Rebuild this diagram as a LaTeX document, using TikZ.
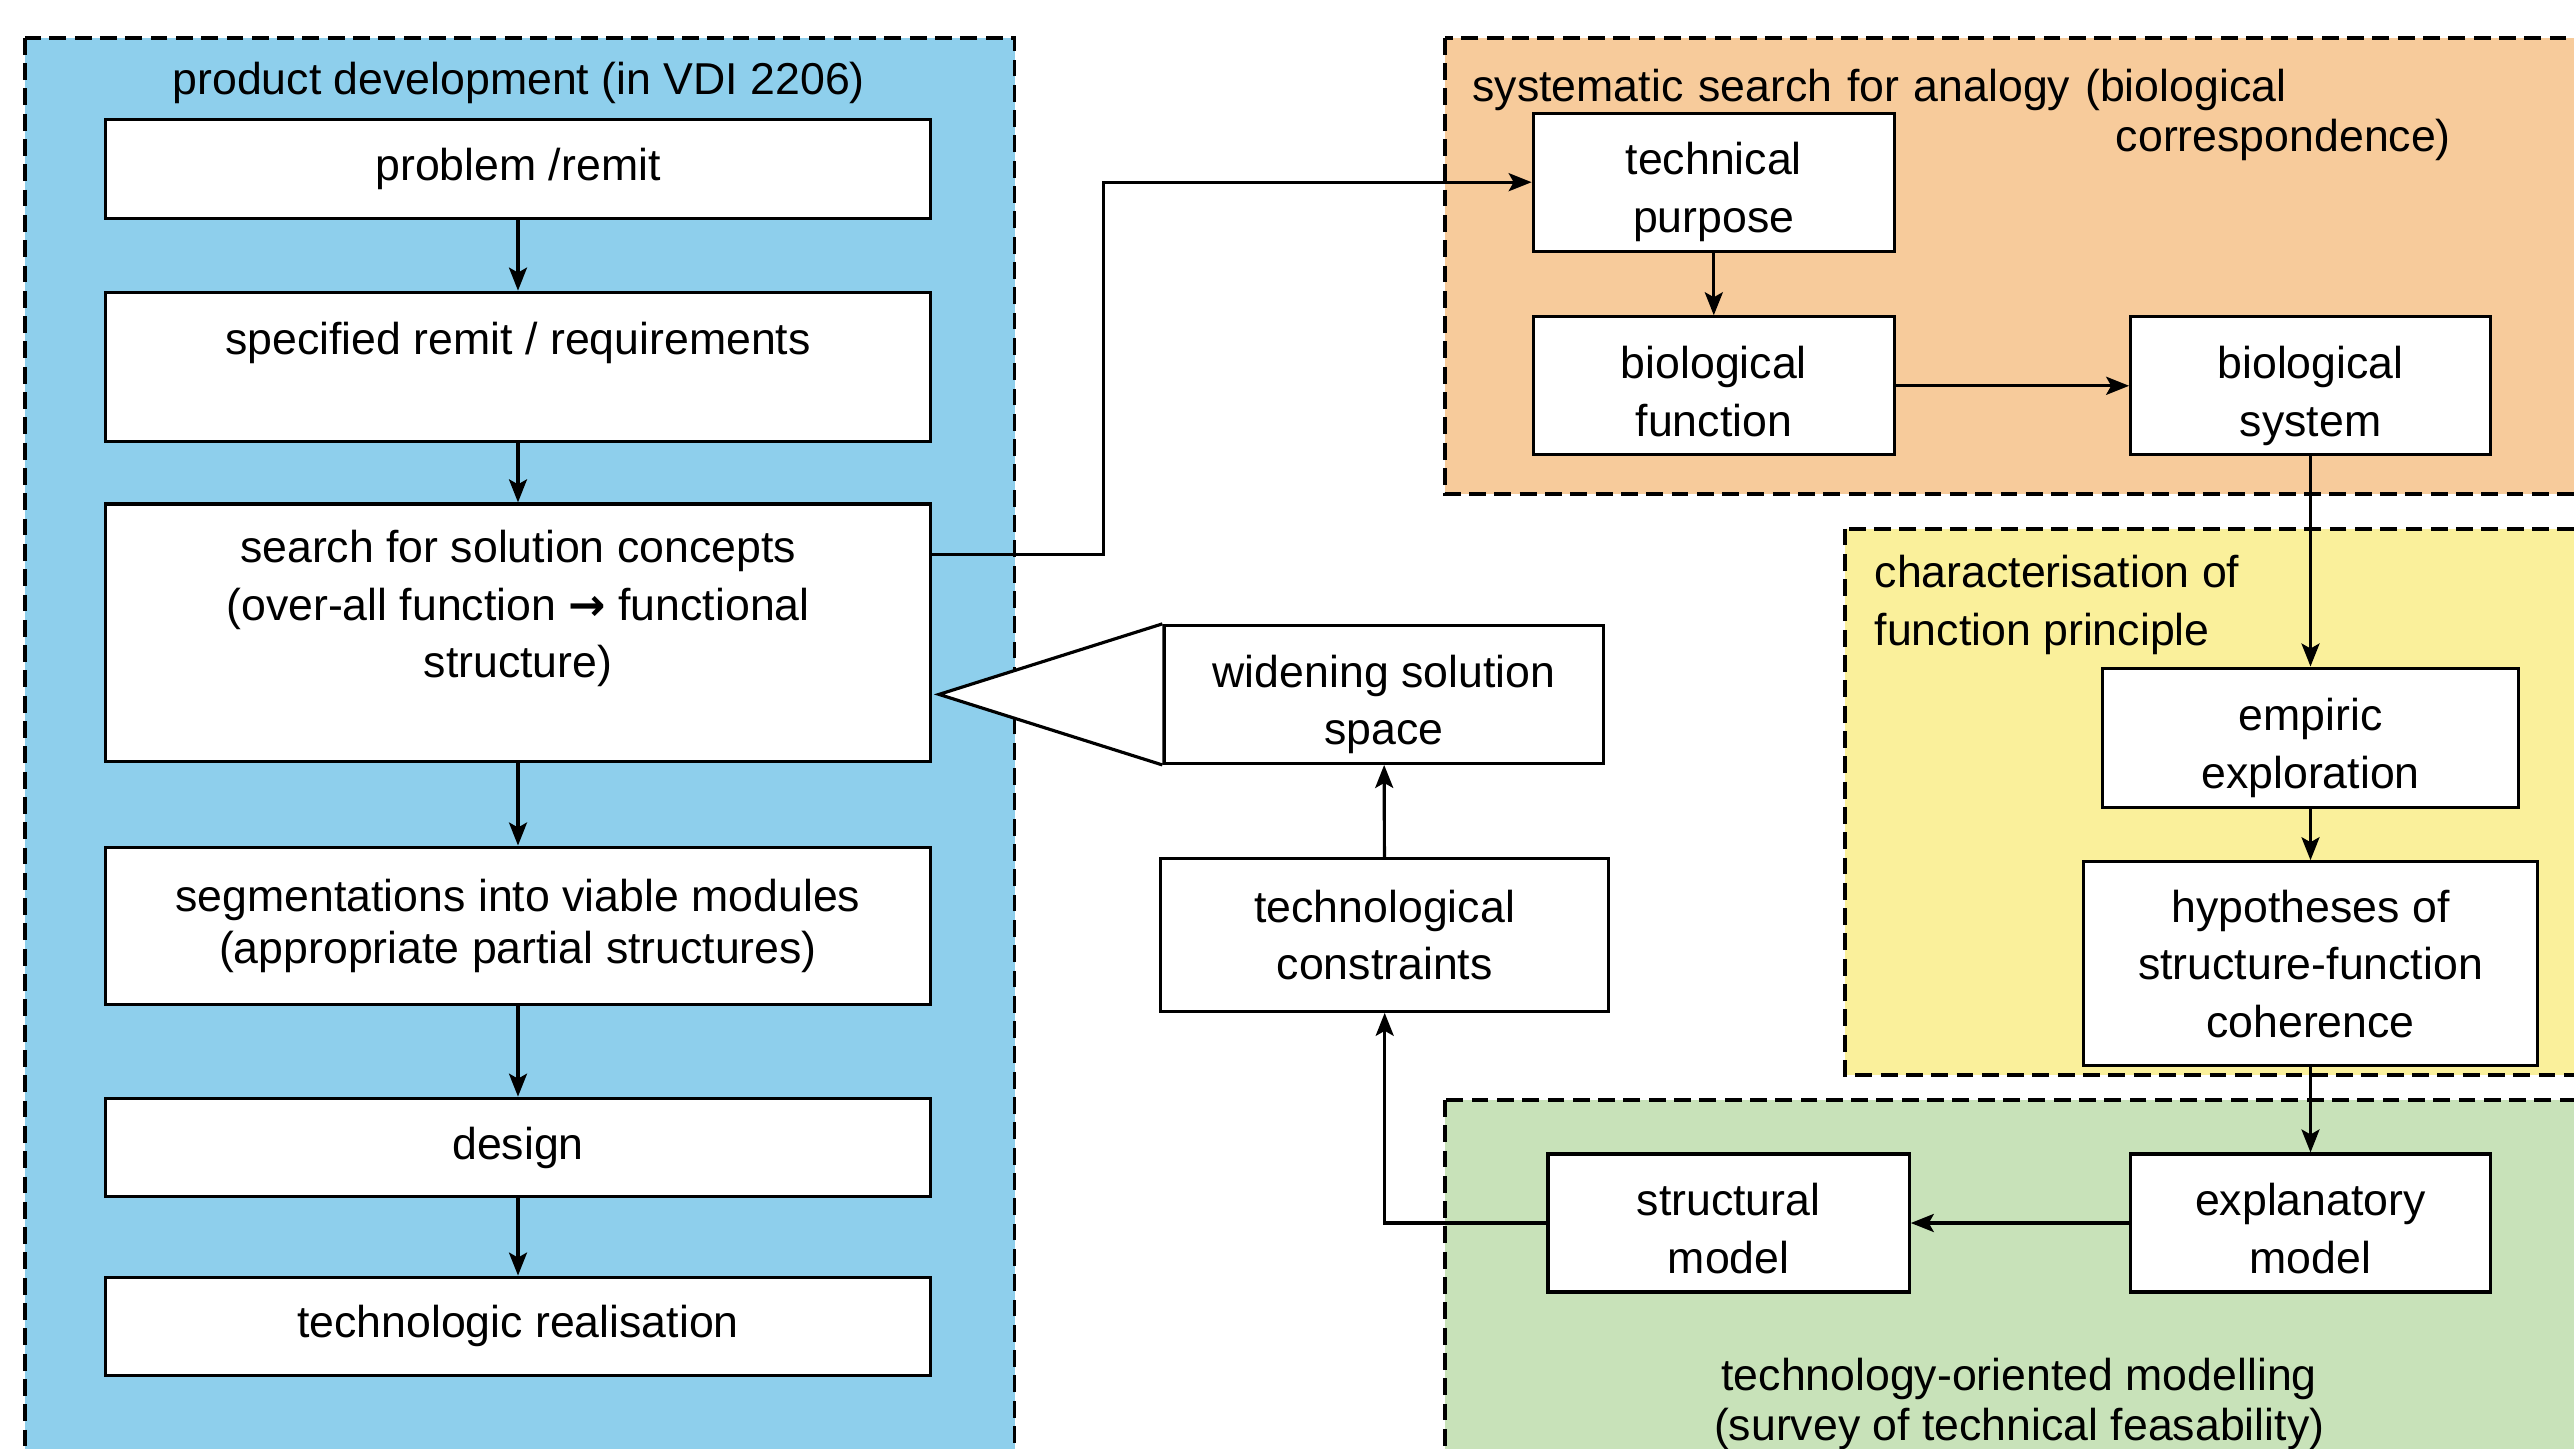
\documentclass[tikz,border=0pt]{standalone}
\usepackage{fontspec}
\setmainfont{Liberation Sans}
\newfontfamily\arrowfont{DejaVu Sans}
\usetikzlibrary{positioning,arrows.meta,calc}
\definecolor{pdblue}{RGB}{142,207,236}
\definecolor{anorange}{RGB}{247,203,155}
\definecolor{fpyellow}{RGB}{250,240,155}
\definecolor{tmgreen}{RGB}{200,226,185}
\tikzset{
box/.style={draw,rectangle,fill=white,inner sep=0pt,align=center},
lbox/.style={box,minimum width=8.257cm},
lower/.style={text depth=0pt},
lowest/.style={text depth=0pt,text height=28.6pt},
area/.style={draw,line width=1.1pt,dash pattern=on 4.8pt off 2.4pt},
title/.style={inner sep=0pt}
}

\begin{document}
\begin{tikzpicture}[line width=0.9pt,>={Stealth[length=2.3mm,width=1.8mm,inset=0.5mm]},
  font=\fontsize{12.7}{16.4}\selectfont]
\useasboundingbox (0,0) rectangle (25.74,14.48);
\clip (0,0) rectangle (25.74,14.48);

% areas
\draw[area,fill=pdblue] (0.246,14.102) rectangle (10.145,-0.5);
\draw[area,fill=anorange] (14.446,14.102) rectangle (26.5,9.539);
\draw[area,fill=fpyellow] (18.452,9.194) rectangle (26.5,3.728);
\draw[area,fill=tmgreen] (14.446,3.481) rectangle (26.5,-0.5);

\node[title] (pdtitle) at (5.187,13.65) {product development (in VDI 2206)};
\node[title,text width=9.784cm,align=left] (antitle) at (19.617,13.33)
  {systematic search for analogy (biological\\[-2pt]\hspace*{\fill}correspondence)};
\node[title,anchor=west,align=left] (fptitle) at (18.731,8.43) {characterisation of\\function principle};
\node[title,align=center] (tmtitle) at (20.192,0.44) {technology-oriented modelling\\[-2.1pt](survey of technical feasability)};

% product development
\node[lbox,minimum height=0.985cm] (problem) at (5.18,12.789) {problem /remit};
\node[lbox,minimum height=1.494cm] (specified) at (5.18,10.811) {specified remit / requirements\\\mbox{}};
\node[lbox,minimum height=2.577cm] (search) at (5.18,8.152)
  {search for solution concepts\\(over-all function {\arrowfont\bfseries →} functional\\structure)\\\mbox{}};
\node[lbox,minimum height=1.576cm] (segment) at (5.18,5.221)
  {segmentations into viable modules\\[-1.8pt](appropriate partial structures)};
\node[lbox,minimum height=0.985cm] (design) at (5.18,3.005) {design};
\node[lbox,minimum height=0.985cm] (realise) at (5.18,1.216) {technologic realisation};

% analogy
\node[box,lowest,minimum width=3.611cm,minimum height=1.379cm] (purpose) at (17.138,12.658) {technical\\purpose};
\node[box,lowest,minimum width=3.611cm,minimum height=1.379cm] (biofunc) at (17.138,10.622) {biological\\function};
\node[box,lowest,minimum width=3.595cm,minimum height=1.379cm] (biosys) at (23.105,10.622) {biological\\system};

% function principle
\node[box,lowest,minimum width=4.153cm,minimum height=1.396cm] (empiric) at (23.105,7.101) {empiric\\exploration};
\node[box,lower,minimum width=4.547cm,minimum height=2.036cm] (hypo) at (23.105,4.844)
  {hypotheses of\\structure-function\\coherence};

% modelling
\node[box,lowest,minimum width=3.612cm,minimum height=1.379cm] (structural) at (17.286,2.250) {structural\\model};
\node[box,lowest,minimum width=3.595cm,minimum height=1.379cm] (explain) at (23.105,2.250) {explanatory\\model};

% feedback
\node[box,lower,minimum width=4.482cm,minimum height=1.527cm] (constraints) at (13.847,5.131) {technological\\constraints};
\node[box,lowest,minimum width=4.399cm,minimum height=1.379cm] (widening) at (13.839,7.536) {widening solution\\space};
\coordinate (tip) at ($(search.east |- widening.west)+(0.066,0)$);
\filldraw[fill=white] (widening.north west) -- (tip) -- (widening.south west);

\draw[->] (problem) -- (specified);
\draw[->] (specified) -- (search);
\draw[->] (search) -- (segment);
\draw[->] (segment) -- (design);
\draw[->] (design) -- (realise);
\draw[->] ([yshift=-5.25mm]search.north east) -- ++(1.707,0) |- (purpose.west);
\draw[->] (purpose) -- (biofunc);
\draw[->] (biofunc) -- (biosys);
\draw[->] (biosys) -- (empiric);
\draw[->] (empiric) -- (hypo);
\draw[->] (hypo) -- (explain);
\draw[->] (explain) -- (structural);
\draw[->] (structural.west) -| (constraints.south);
\draw[->] (constraints) -- (widening);
\end{tikzpicture}
\end{document}
